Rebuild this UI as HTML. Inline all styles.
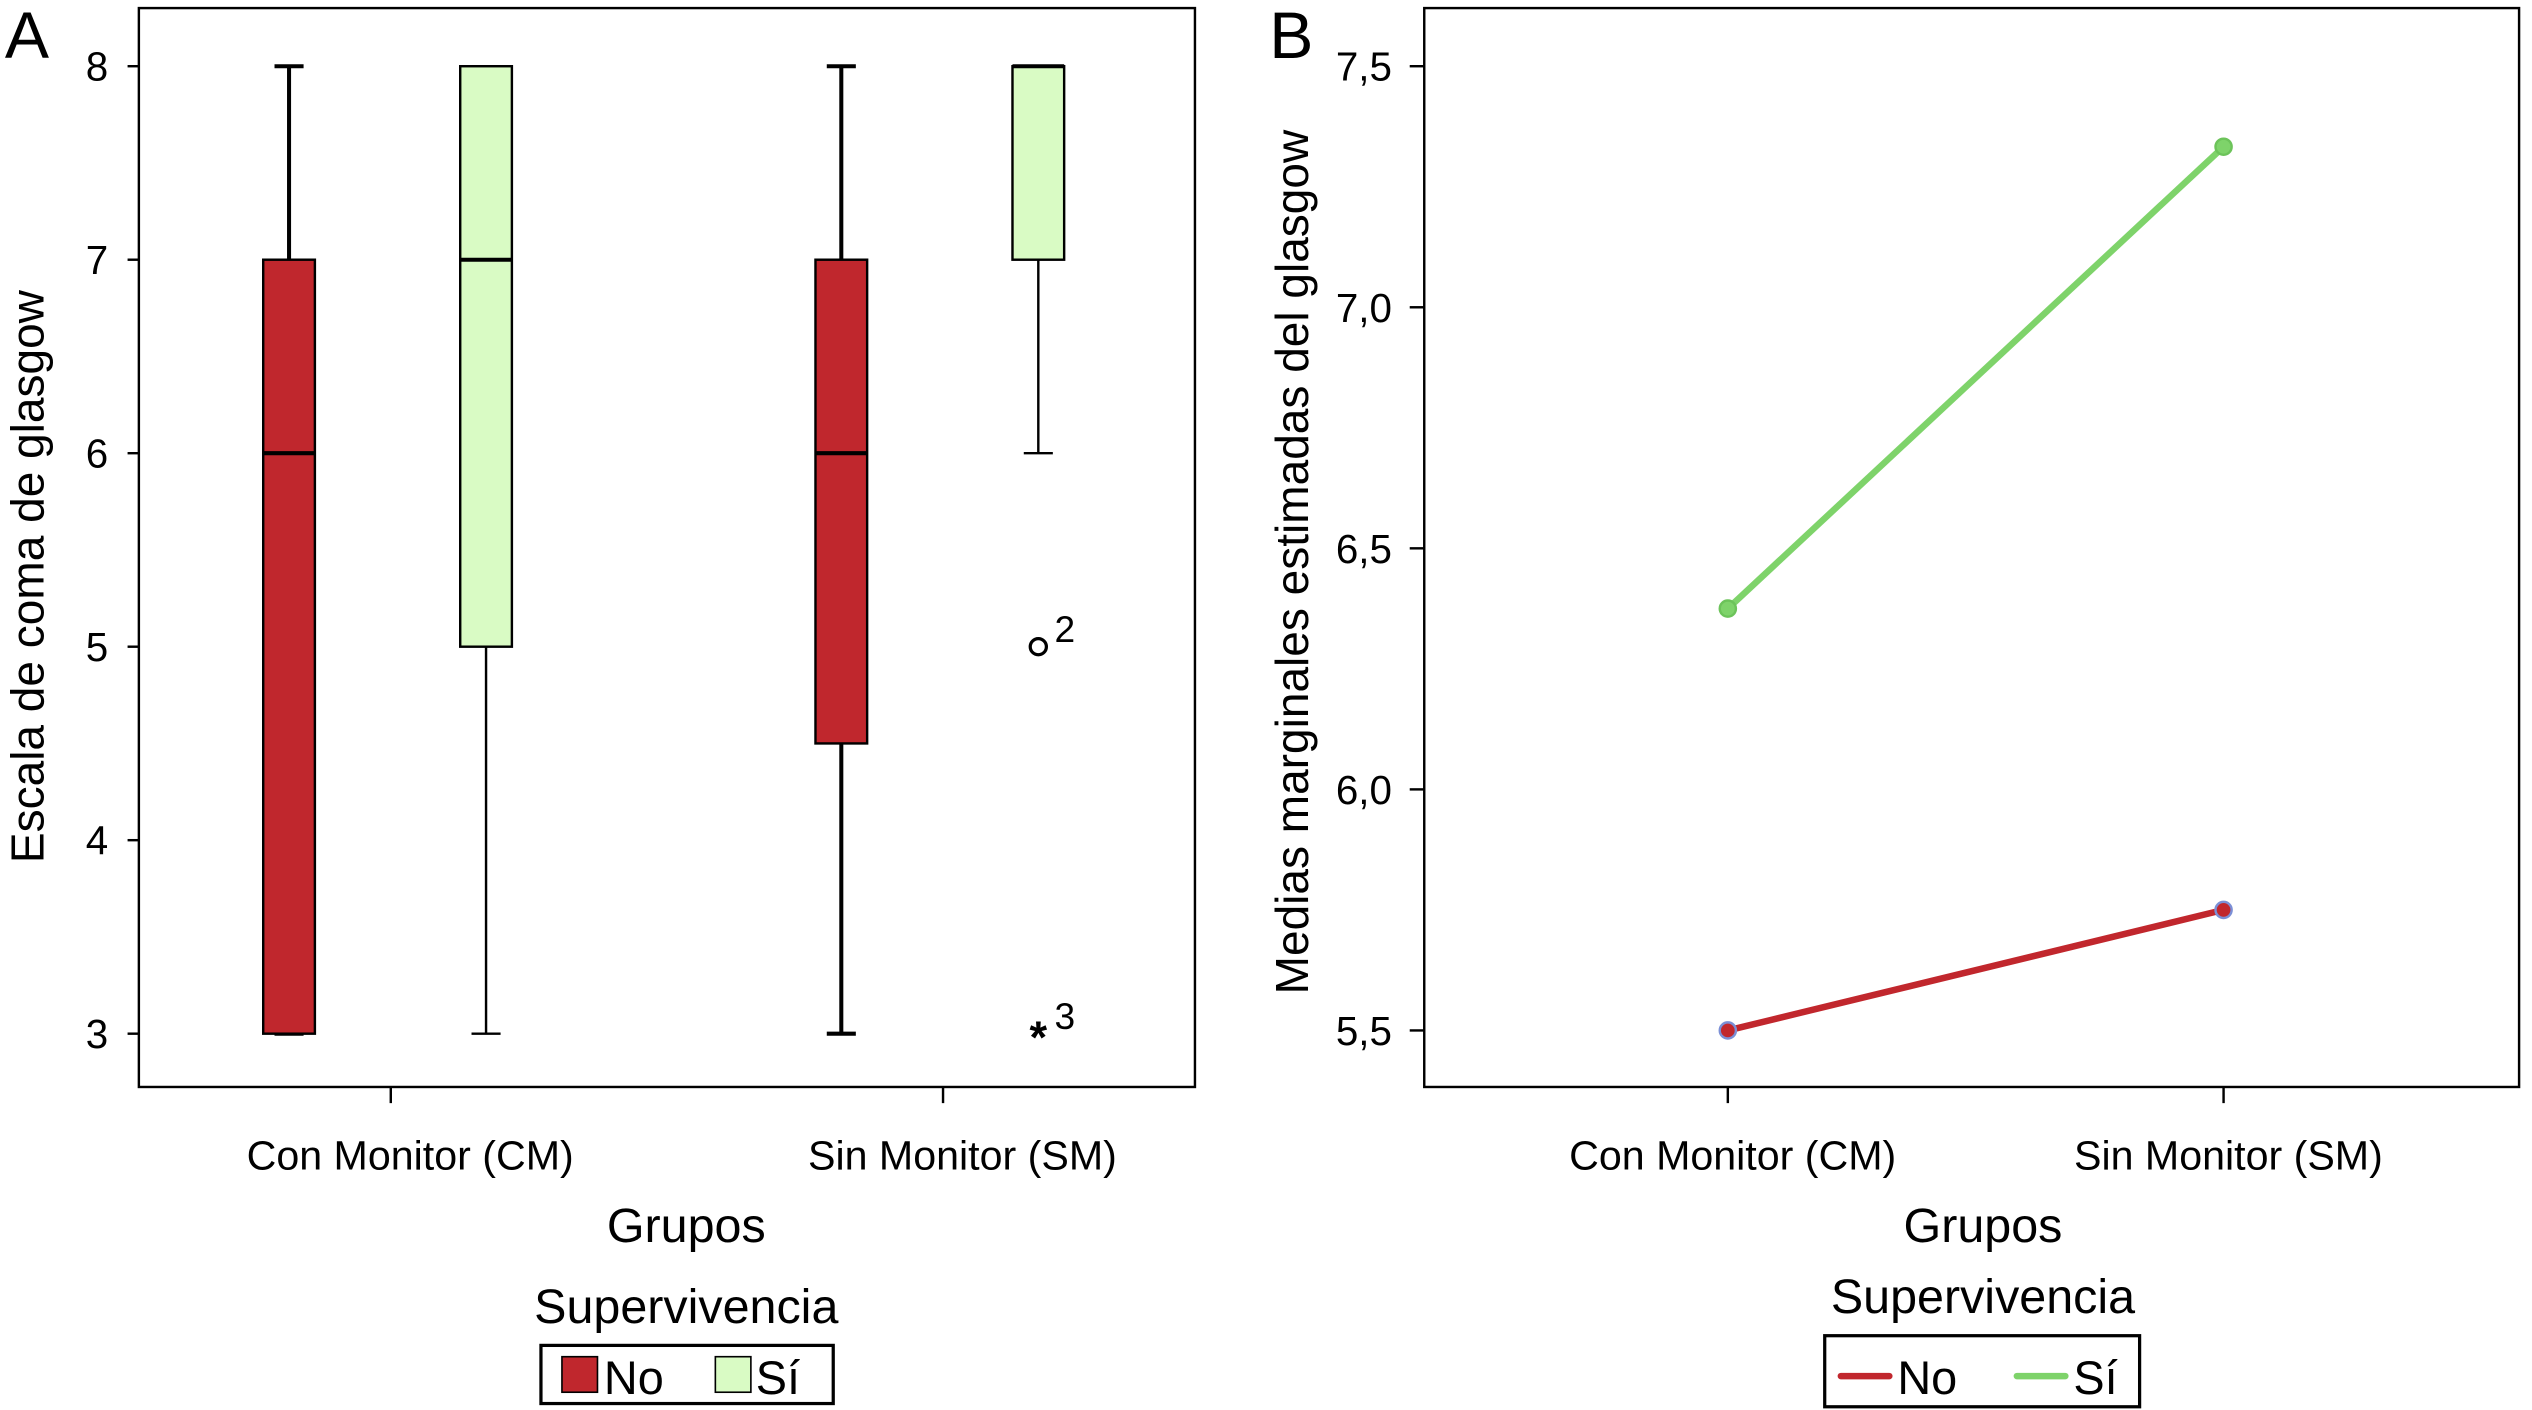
<!DOCTYPE html>
<html><head><meta charset="utf-8"><style>
html,body{margin:0;padding:0;background:#fff;}
svg{display:block;font-family:"Liberation Sans",sans-serif;}
</style></head><body>
<svg id="chart" width="2532" height="1410" viewBox="0 0 1568 873" preserveAspectRatio="none">
<g id="pa"></g>
<g id="pb"></g>
</svg>
<script>
const groups = ["Con Monitor (CM)", "Sin Monitor (SM)"];
const survival = ["No", "Sí"];
// boxplot stats per [group][survival]: min, q1, median, q3, max
const boxMin = [[3, 3], [3, 6]];
const boxQ1 = [[3, 5], [4.5, 7]];
const boxMed = [[6, 7], [6, 8]];
const boxQ3 = [[7, 8], [7, 8]];
const boxMax = [[8, 8], [8, 8]];
const outlierVals = [5, 3];
const outlierLabels = ["2", "3"];
const outlierKinds = ["circle", "star"];
const yTicksA = [3, 4, 5, 6, 7, 8];
// panel B estimated marginal means
const meansNo = [5.5, 5.75];
const meansSi = [6.375, 7.333];
const yTicksB = [5.5, 6.0, 6.5, 7.0, 7.5];
const yTickLabelsB = ["5,5", "6,0", "6,5", "7,0", "7,5"];

const NS = "http://www.w3.org/2000/svg";
function mk(parent, tag, attrs, name, text) {
  const e = document.createElementNS(NS, tag);
  for (const k in attrs) e.setAttribute(k, attrs[k]);
  
  
  if (text !== undefined) e.textContent = text;
  parent.appendChild(e);
  return e;
}
const RED = "#c0272d", GREEN = "#d9fbc4", LGREEN = "#7ed36a", LRED = "#c1272d";

// Panel A
const pa = document.getElementById('pa');
const yA = v => 640 - (v - 3) * (599 / 5);
const xGroupA = [242, 584];
const offA = [-63, 59];
mk(pa, 'rect', {x:86, y:5, width:654, height:668, fill:'none', stroke:'#000', 'stroke-width':1.5}, 'plot-frame-a');
mk(pa, 'text', {x:3, y:36, 'font-size':41}, 'panel-label-a', 'A');
yTicksA.forEach(t => {
  mk(pa, 'line', {x1:79, x2:86, y1:yA(t), y2:yA(t), stroke:'#000', 'stroke-width':1.5}, 'y-tick-a');
  mk(pa, 'text', {x:67, y:yA(t)+9, 'font-size':25, 'text-anchor':'end'}, 'y-tick-label-a', String(t));
});
groups.forEach((g, i) => {
  mk(pa, 'line', {x1:xGroupA[i], x2:xGroupA[i], y1:673, y2:683, stroke:'#000', 'stroke-width':1.5}, 'x-tick-a');
  mk(pa, 'text', {x:xGroupA[i]+12, y:724, 'font-size':25.5, 'text-anchor':'middle'}, 'x-tick-label-a', g);
  survival.forEach((s, j) => {
    const cx = xGroupA[i] + offA[j], w = 32;
    const col = j === 0 ? RED : GREEN;
    const sw = j === 0 ? 2.5 : 1.5;
    mk(pa, 'line', {x1:cx, x2:cx, y1:yA(boxMax[i][j]), y2:yA(boxQ3[i][j]), stroke:'#000', 'stroke-width':sw}, 'whisker-upper');
    mk(pa, 'line', {x1:cx, x2:cx, y1:yA(boxQ1[i][j]), y2:yA(boxMin[i][j]), stroke:'#000', 'stroke-width':sw}, 'whisker-lower');
    mk(pa, 'line', {x1:cx-9, x2:cx+9, y1:yA(boxMax[i][j]), y2:yA(boxMax[i][j]), stroke:'#000', 'stroke-width':sw}, 'whisker-cap-upper');
    mk(pa, 'line', {x1:cx-9, x2:cx+9, y1:yA(boxMin[i][j]), y2:yA(boxMin[i][j]), stroke:'#000', 'stroke-width':sw}, 'whisker-cap-lower');
    const top = yA(boxQ3[i][j]), bot = yA(boxQ1[i][j]);
    mk(pa, 'rect', {x:cx-w/2, y:top, width:w, height:Math.max(bot-top,0.5), fill:col, stroke:'#000', 'stroke-width':1.5}, 'box-' + (i?'sm':'cm') + '-' + (j?'si':'no'));
    mk(pa, 'line', {x1:cx-w/2, x2:cx+w/2, y1:yA(boxMed[i][j]), y2:yA(boxMed[i][j]), stroke:'#000', 'stroke-width':2.5}, 'median-line');
  });
});
outlierVals.forEach((v, k) => {
  const cx = xGroupA[1] + offA[1];
  if (outlierKinds[k] === 'circle') mk(pa, 'circle', {cx:cx, cy:yA(v), r:5, fill:'none', stroke:'#000', 'stroke-width':2}, 'outlier-point');
  else mk(pa, 'text', {x:cx, y:yA(v)+12, 'font-size':28, 'font-weight':'bold', 'text-anchor':'middle'}, 'extreme-point', '*');
  mk(pa, 'text', {x:cx+10, y:yA(v)-3, 'font-size':23}, 'outlier-label', outlierLabels[k]);
});
mk(pa, 'text', {x:0, y:0, 'font-size':28.5, 'text-anchor':'middle', transform:'translate(27,357) rotate(-90)'}, 'y-axis-title-a', 'Escala de coma de glasgow');
mk(pa, 'text', {x:425, y:769, 'font-size':30, 'text-anchor':'middle'}, 'x-axis-title-a', 'Grupos');
mk(pa, 'text', {x:425, y:819, 'font-size':30, 'text-anchor':'middle'}, 'legend-title-a', 'Supervivencia');
mk(pa, 'rect', {x:335, y:833, width:181, height:36, fill:'#fff', stroke:'#000', 'stroke-width':2}, 'legend-box-a');
mk(pa, 'rect', {x:348, y:840, width:22, height:22, fill:RED, stroke:'#000', 'stroke-width':1}, 'legend-swatch-no');
mk(pa, 'text', {x:374, y:863, 'font-size':29}, 'legend-label-no', 'No');
mk(pa, 'rect', {x:443, y:840, width:22, height:22, fill:GREEN, stroke:'#000', 'stroke-width':1}, 'legend-swatch-si');
mk(pa, 'text', {x:468, y:863, 'font-size':29}, 'legend-label-si', 'Sí');

// Panel B
const pb = document.getElementById('pb');
const yB = v => 638 - (v - 5.5) * (597 / 2);
const xB = [1070, 1377];
mk(pb, 'rect', {x:882, y:5, width:678, height:668, fill:'none', stroke:'#000', 'stroke-width':1.5}, 'plot-frame-b');
mk(pb, 'text', {x:786, y:36, 'font-size':41}, 'panel-label-b', 'B');
yTicksB.forEach((t, k) => {
  mk(pb, 'line', {x1:873, x2:882, y1:yB(t), y2:yB(t), stroke:'#000', 'stroke-width':1.5}, 'y-tick-b');
  mk(pb, 'text', {x:862, y:yB(t)+9, 'font-size':25, 'text-anchor':'end'}, 'y-tick-label-b', yTickLabelsB[k]);
});
groups.forEach((g, i) => {
  mk(pb, 'line', {x1:xB[i], x2:xB[i], y1:673, y2:683, stroke:'#000', 'stroke-width':1.5}, 'x-tick-b');
  mk(pb, 'text', {x:xB[i]+3, y:724, 'font-size':25.5, 'text-anchor':'middle'}, 'x-tick-label-b', g);
});
[[meansNo, LRED, 'no'], [meansSi, LGREEN, 'si']].forEach(([arr, col, nm]) => {
  mk(pb, 'line', {x1:xB[0], y1:yB(arr[0]), x2:xB[1], y2:yB(arr[1]), stroke:col, 'stroke-width':4}, 'line-' + nm);
  arr.forEach((v, i) => {
    mk(pb, 'circle', {cx:xB[i], cy:yB(v), r:5, fill:col, stroke: nm==='no' ? '#7b8fd6' : '#6cc35a', 'stroke-width':1.5}, 'point-' + nm);
  });
});
mk(pb, 'text', {x:0, y:0, 'font-size':28.5, 'text-anchor':'middle', transform:'translate(810,348) rotate(-90)'}, 'y-axis-title-b', 'Medias marginales estimadas del glasgow');
mk(pb, 'text', {x:1228, y:769, 'font-size':30, 'text-anchor':'middle'}, 'x-axis-title-b', 'Grupos');
mk(pb, 'text', {x:1228, y:813, 'font-size':30, 'text-anchor':'middle'}, 'legend-title-b', 'Supervivencia');
mk(pb, 'rect', {x:1130, y:827, width:195, height:44, fill:'#fff', stroke:'#000', 'stroke-width':2}, 'legend-box-b');
mk(pb, 'line', {x1:1140, x2:1170, y1:852, y2:852, stroke:LRED, 'stroke-width':4, 'stroke-linecap':'round'}, 'legend-line-no');
mk(pb, 'text', {x:1175, y:863, 'font-size':29}, 'legend-label-no-b', 'No');
mk(pb, 'line', {x1:1249, x2:1279, y1:852, y2:852, stroke:LGREEN, 'stroke-width':4, 'stroke-linecap':'round'}, 'legend-line-si');
mk(pb, 'text', {x:1284, y:863, 'font-size':29}, 'legend-label-si-b', 'Sí');
</script>
</body></html>
